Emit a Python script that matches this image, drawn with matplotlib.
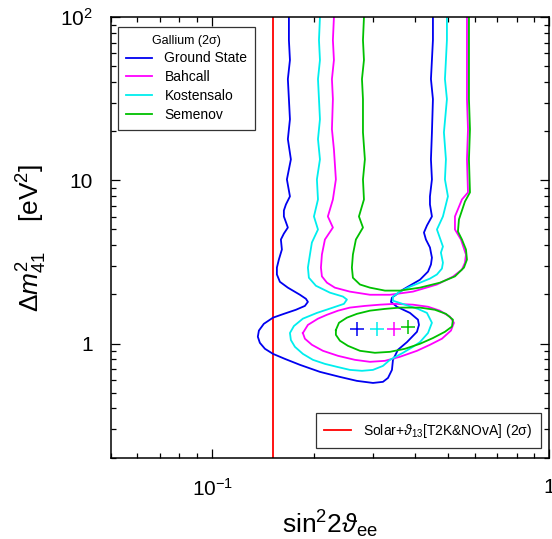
import numpy as np
import matplotlib.pyplot as plt
from matplotlib.ticker import NullFormatter

plt.rcParams['font.family'] = ['Liberation Sans', 'DejaVu Sans']
plt.rcParams['mathtext.fontset'] = 'custom'
plt.rcParams['mathtext.rm'] = 'Liberation Sans'
plt.rcParams['mathtext.it'] = 'Liberation Sans:italic'
plt.rcParams['mathtext.fallback'] = 'stixsans'

# 2 sigma contours (sin^2 2theta_ee, dm^2_41 [eV^2])
# Ground State: one open curve, left edge down, round the bottom, up the right edge
gs_x = [0.1689, 0.1689, 0.1701, 0.1677, 0.1689, 0.1701, 0.1677, 0.1712, 0.1666, 0.1701,
        0.1655, 0.1632, 0.1632, 0.1677, 0.1632, 0.1599, 0.1610, 0.1577, 0.1556, 0.1556,
        0.1588, 0.1677, 0.1821, 0.1897, 0.1923, 0.1884, 0.1772, 0.1632, 0.1515, 0.1423,
        0.1376, 0.1366, 0.1385, 0.1434, 0.1515, 0.1643, 0.1821, 0.2088, 0.2393, 0.2688,
        0.2999, 0.3211, 0.3323, 0.3414, 0.3438, 0.3557, 0.3783, 0.4050, 0.4106, 0.4078,
        0.3861, 0.3533, 0.3391, 0.3414, 0.3681, 0.4134, 0.4368, 0.4456, 0.4486, 0.4426,
        0.4306, 0.4248, 0.4336, 0.4486, 0.4426, 0.4426, 0.4486, 0.4456, 0.4486, 0.4517,
        0.4456, 0.4486, 0.4517, 0.4517]
gs_y = [100, 72.5, 54.7, 41.8, 31.5, 23.7, 17.9, 13.46, 10.14, 7.98,
        7.12, 6.54, 6.01, 5.14, 4.72, 4.34, 3.77, 3.27, 2.92, 2.65,
        2.39, 2.20, 1.99, 1.88, 1.80, 1.70, 1.61, 1.52, 1.44, 1.32,
        1.20, 1.10, 1.01, 0.928, 0.864, 0.805, 0.740, 0.670, 0.624, 0.590,
        0.573, 0.582, 0.615, 0.689, 0.794, 0.915, 1.02, 1.18, 1.30, 1.40,
        1.54, 1.68, 1.80, 1.91, 2.14, 2.46, 2.76, 3.05, 3.36, 3.88,
        4.34, 4.79, 5.29, 6.01, 7.12, 7.98, 10.14, 13.46, 19.7, 31.5,
        41.8, 54.7, 72.5, 100]

# Kostensalo: also one open curve
ko_x = [0.2088, 0.2074, 0.2088, 0.2060, 0.2074, 0.2088, 0.2060, 0.2088, 0.2045, 0.2060,
        0.2004, 0.2060, 0.1976, 0.1950, 0.1923, 0.1936, 0.2031, 0.2235, 0.2443, 0.2510,
        0.2459, 0.2281, 0.2045, 0.1858, 0.1748, 0.1701, 0.1712, 0.1760, 0.1858, 0.1990,
        0.2160, 0.2347, 0.2562, 0.2782, 0.2999, 0.3211, 0.3368, 0.3681, 0.3940, 0.4134,
        0.4368, 0.4486, 0.4336, 0.4078, 0.3731, 0.3438, 0.3438, 0.3606, 0.3861, 0.4134,
        0.4426, 0.4642, 0.4803, 0.4836, 0.4770, 0.4836, 0.4642, 0.4836, 0.4936, 0.5004,
        0.4903, 0.4936, 0.4869, 0.4970, 0.4903, 0.4936, 0.4970, 0.4970]
ko_y = [100, 72.5, 54.7, 41.8, 31.5, 23.7, 17.9, 13.46, 10.14, 7.64,
        6.01, 5.00, 4.16, 3.51, 2.92, 2.53, 2.26, 2.05, 1.94, 1.86,
        1.75, 1.66, 1.54, 1.42, 1.28, 1.16, 1.05, 0.954, 0.864, 0.794,
        0.750, 0.719, 0.689, 0.680, 0.689, 0.729, 0.794, 0.877, 0.954, 1.02,
        1.16, 1.34, 1.54, 1.63, 1.73, 1.83, 1.94, 2.08, 2.23, 2.36,
        2.50, 2.65, 2.88, 3.13, 3.61, 3.93, 5.00, 6.01, 7.12, 7.98,
        10.14, 13.46, 19.7, 31.5, 41.8, 54.7, 72.5, 100]

# Bahcall: open upper band plus a closed island
ba_x = [0.2297, 0.2281, 0.2297, 0.2266, 0.2281, 0.2266, 0.2297, 0.2328, 0.2281, 0.2204,
        0.2281, 0.2160, 0.2116, 0.2102, 0.2116, 0.2190, 0.2312, 0.2562, 0.2938, 0.3368,
        0.3940, 0.4642, 0.5178, 0.5507, 0.5622, 0.5660, 0.5470, 0.5250, 0.5250, 0.5507,
        0.5739, 0.5699, 0.5739, 0.5699, 0.5699, 0.5699]
ba_y = [100, 72.5, 54.7, 41.8, 31.5, 20.6, 15.5, 10.14, 7.64, 6.01,
        5.14, 4.34, 3.51, 2.92, 2.58, 2.36, 2.20, 2.08, 1.99, 1.99,
        2.08, 2.30, 2.57, 2.84, 3.13, 3.51, 4.34, 5.00, 6.01, 7.64,
        8.44, 13.46, 20.6, 31.5, 54.7, 100]
ba_isl_x = [0.1858, 0.1923, 0.2060, 0.2190, 0.2363, 0.2562, 0.2838, 0.3146, 0.3485, 0.3940,
            0.4368, 0.4738, 0.5073, 0.5214, 0.5108, 0.4803, 0.4426, 0.4050, 0.3606, 0.3255,
            0.2938, 0.2651, 0.2363, 0.2131, 0.1976, 0.1884, 0.1858]
ba_isl_y = [1.16, 1.30, 1.42, 1.50, 1.59, 1.66, 1.70, 1.73, 1.75, 1.73,
            1.68, 1.59, 1.46, 1.34, 1.20, 1.07, 0.982, 0.902, 0.829, 0.783,
            0.772, 0.794, 0.840, 0.902, 0.982, 1.07, 1.16]

# Semenov: open upper band plus a closed island
se_x = [0.2820, 0.2801, 0.2820, 0.2782, 0.2801, 0.2801, 0.2838, 0.2801, 0.2820, 0.2725,
        0.2801, 0.2669, 0.2615, 0.2597, 0.2615, 0.2744, 0.2938, 0.3255, 0.3606, 0.4134,
        0.4738, 0.5250, 0.5583, 0.5699, 0.5660, 0.5507, 0.5358, 0.5395, 0.5622, 0.5817,
        0.5777, 0.5817, 0.5777, 0.5777, 0.5777]
se_y = [100, 72.5, 54.7, 41.8, 31.5, 19.7, 13.46, 10.14, 7.64, 6.01,
        5.14, 4.34, 3.51, 2.92, 2.53, 2.30, 2.20, 2.11, 2.11, 2.20,
        2.36, 2.58, 2.92, 3.27, 3.77, 4.34, 4.86, 5.76, 7.43, 8.44,
        13.46, 20.6, 31.5, 54.7, 100]
se_isl_x = [0.2328, 0.2378, 0.2510, 0.2688, 0.2938, 0.3255, 0.3606, 0.4134, 0.4578, 0.4936,
            0.5178, 0.5144, 0.4903, 0.4517, 0.4134, 0.3731, 0.3368, 0.3039, 0.2744, 0.2527,
            0.2393, 0.2328, 0.2328]
se_isl_y = [1.21, 1.34, 1.44, 1.52, 1.59, 1.63, 1.66, 1.66, 1.61, 1.52,
            1.40, 1.27, 1.18, 1.08, 0.996, 0.928, 0.889, 0.877, 0.902, 0.968,
            1.04, 1.13, 1.21]

# best fit points: Ground State, Kostensalo, Bahcall, Semenov
bf_x = [0.2688, 0.3082, 0.3461, 0.3809]
bf_y = [1.23, 1.23, 1.23, 1.27]

# Solar + theta13 bound
solar_x = 0.1514

c_gs, c_ba, c_ko, c_se = '#0000f0', '#ff00ff', '#00eeee', '#00c000'
lw = 1.3

fig = plt.figure(figsize=(5.52, 5.39), dpi=100)
ax = fig.add_axes([0.2005, 0.1512, 0.7946, 0.8167])

ax.axvline(solar_x, color='#ff0000', lw=lw)
l_gs, = ax.plot(gs_x, gs_y, color=c_gs, lw=lw)
l_ba, = ax.plot(ba_x, ba_y, color=c_ba, lw=lw)
ax.plot(ba_isl_x, ba_isl_y, color=c_ba, lw=lw)
l_ko, = ax.plot(ko_x, ko_y, color=c_ko, lw=lw)
l_se, = ax.plot(se_x, se_y, color=c_se, lw=lw)
ax.plot(se_isl_x, se_isl_y, color=c_se, lw=lw)

for x, y, c in zip(bf_x, bf_y, [c_gs, c_ko, c_ba, c_se]):
    ax.plot(x, y, marker='+', ms=10, mew=1.1, color=c, ls='none')

ax.set_xscale('log')
ax.set_yscale('log')
ax.set_xlim(0.05, 1)
ax.set_ylim(0.2, 100)

ax.set_xticks([0.1, 1])
ax.set_xticklabels([r'$10^{-1}$', '1'])
ax.set_yticks([1, 10, 100])
ax.set_yticklabels(['1', '10', r'$10^2$'])
ax.xaxis.set_minor_formatter(NullFormatter())
ax.yaxis.set_minor_formatter(NullFormatter())
ax.tick_params(which='both', direction='in', top=True, right=True, width=0.9)
ax.tick_params(which='major', length=6.5, labelsize=15)
ax.tick_params(axis='x', which='major', pad=15)
ax.tick_params(axis='y', which='major', pad=13)
ax.tick_params(which='minor', length=3.6)
for s in ax.spines.values():
    s.set_linewidth(1.1)

ax.set_xlabel(r'$\mathrm{sin}^2 2\vartheta_{\mathrm{ee}}$', fontsize=19, labelpad=6)
ax.set_ylabel(r'$\Delta m^2_{41}$    [eV$^2$]', fontsize=19, labelpad=8)

leg1 = ax.legend([l_gs, l_ba, l_ko, l_se],
                 ['Ground State', 'Bahcall', 'Kostensalo', 'Semenov'],
                 title='Gallium (2σ)', title_fontsize=9, fontsize=10,
                 loc='upper left', bbox_to_anchor=(0.0166, 0.978), borderaxespad=0,
                 fancybox=False, edgecolor='#333333', framealpha=1,
                 handlelength=1.9, handletextpad=0.9, labelspacing=0.35, borderpad=0.55)
leg1.get_frame().set_linewidth(0.9)
ax.add_artist(leg1)

red = plt.Line2D([], [], color='#ff0000', lw=lw)
leg2 = ax.legend([red], [r'Solar+$\vartheta_{13}$[T2K&NOvA] (2σ)'], fontsize=10,
                 loc='lower right', bbox_to_anchor=(0.981, 0.0216), borderaxespad=0,
                 fancybox=False, edgecolor='#333333', framealpha=1,
                 handlelength=1.9, handletextpad=0.9, borderpad=0.6)
leg2.get_frame().set_linewidth(0.9)

fig.savefig('out.png', dpi=100)
